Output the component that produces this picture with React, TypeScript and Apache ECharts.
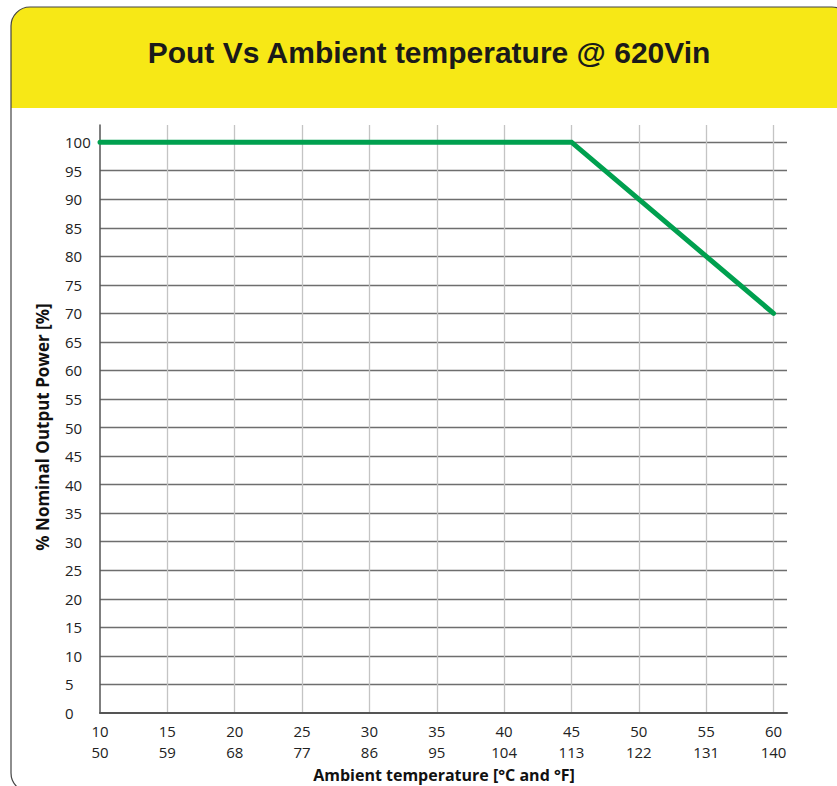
import React, { useEffect, useRef } from "react";
import * as echarts from "echarts";

const titleText = "Pout Vs Ambient temperature @ 620Vin";
const xName = "Ambient temperature [°C and °F]";
const yName = "% Nominal Output Power [%]";
const celsiusTicks = [10, 15, 20, 25, 30, 35, 40, 45, 50, 55, 60];
const fahrenheitTicks = ["50", "59", "68", "77", "86", "95", "104", "113", "122", "131", "140"];
const tempC = [10, 45, 60];
const powerPct = [100, 100, 70];

export default function App() {
  const ref = useRef<HTMLDivElement>(null);
  useEffect(() => {
    if (!ref.current) return;
    const chart = echarts.init(ref.current, undefined, { renderer: "svg" });
    const labelFont = "'Open Sans', 'Noto Sans', sans-serif";
    chart.setOption({
      animation: false,
      backgroundColor: "#ffffff",
      graphic: [
        {
          type: "rect",
          shape: { x: 11, y: 7, width: 840, height: 101, r: [19, 0, 0, 0] },
          style: { fill: "#f7e816" },
          z: 0,
        },
        {
          type: "rect",
          shape: { x: 11, y: 7, width: 840, height: 785, r: 19 },
          style: { fill: "none", stroke: "#444444", lineWidth: 1.2 },
          z: 1,
        },
        {
          type: "text",
          x: 429,
          y: 52,
          style: {
            text: titleText,
            fill: "#1a1a1a",
            font: "bold 30px 'Liberation Sans', Arial, sans-serif",
            textAlign: "center",
            textVerticalAlign: "middle",
          },
          z: 2,
        },
        {
          type: "text",
          x: 42,
          y: 427,
          rotation: Math.PI / 2,
          style: {
            text: yName,
            fill: "#111",
            font: `bold 17px ${labelFont}`,
            textAlign: "center",
            textVerticalAlign: "middle",
          },
          z: 2,
        },
        {
          type: "text",
          x: 444,
          y: 775,
          style: {
            text: xName,
            fill: "#111",
            font: `bold 16px ${labelFont}`,
            textAlign: "center",
            textVerticalAlign: "middle",
          },
          z: 2,
        },
      ],
      grid: {
        left: 100,
        top: 125,
        right: 50,
        bottom: 73,
        containLabel: false,
        outerBoundsMode: "none",
      },
      xAxis: {
        type: "value",
        min: 10,
        max: 61,
        interval: 5,
        axisLine: { show: true, lineStyle: { color: "#555", width: 2 } },
        axisTick: { show: false },
        axisLabel: {
          margin: 7,
          fontFamily: labelFont,
          fontSize: 15,
          color: "#222",
          lineHeight: 21,
          showMaxLabel: false,
          formatter: (v: number) => {
            const i = celsiusTicks.indexOf(v);
            return i >= 0 ? `${celsiusTicks[i]}\n${fahrenheitTicks[i]}` : "";
          },
        },
        splitLine: {
          show: true,
          showMinLine: false,
          showMaxLine: false,
          lineStyle: { color: "#c4c4c4", width: 1.3 },
        },
      },
      yAxis: {
        type: "value",
        min: 0,
        max: 103,
        interval: 5,
        axisLine: { show: true, lineStyle: { color: "#555", width: 1.5 } },
        axisTick: { show: false },
        axisLabel: {
          margin: 35,
          align: "left",
          fontFamily: labelFont,
          fontSize: 15,
          color: "#222",
          showMaxLabel: false,
          formatter: (v: number) => (v % 5 === 0 && v <= 100 ? String(v) : ""),
        },
        splitLine: {
          show: true,
          showMinLine: false,
          showMaxLine: false,
          lineStyle: { color: "#6e6e6e", width: 1.3 },
        },
      },
      series: [
        {
          type: "line",
          data: tempC.map((t, i) => [t, powerPct[i]]),
          symbol: "none",
          lineStyle: { color: "#00a04f", width: 5, cap: "round", join: "miter" },
          z: 5,
        },
      ],
    });
    return () => chart.dispose();
  }, []);
  return (
    <div
      ref={ref}
      style={{ position: "fixed", left: 0, top: 0, width: 837, height: 786 }}
    />
  );
}
